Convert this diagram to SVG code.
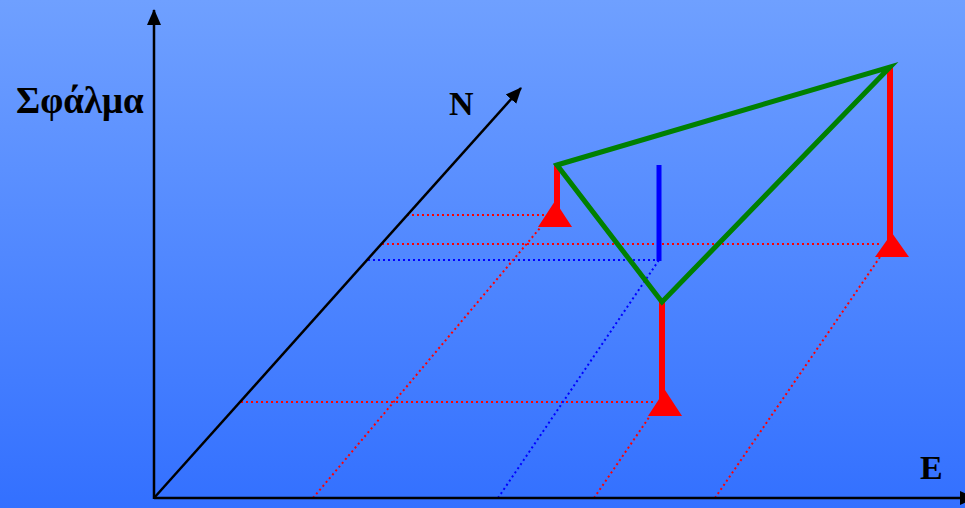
<svg xmlns="http://www.w3.org/2000/svg" width="965" height="508" viewBox="0 0 965 508">
<defs>
<linearGradient id="bg" x1="0" y1="0" x2="0" y2="1">
<stop offset="0" stop-color="#6fa0ff"/>
<stop offset="1" stop-color="#3370ff"/>
</linearGradient>
<marker id="ahb" markerWidth="16" markerHeight="16" refX="15" refY="7" orient="auto" markerUnits="userSpaceOnUse" viewBox="0 0 16 14">
<path d="M0,0 L16,7 L0,14 z" fill="#000"/>
</marker>
</defs>
<style>
.axis{stroke:#000;stroke-width:2.5;fill:none}
.rdot{stroke:#ff0000;stroke-width:2;stroke-dasharray:2 3;fill:none}
.bdot{stroke:#0000ff;stroke-width:2;stroke-dasharray:2 3;fill:none}
.red{stroke:#ff0000;stroke-width:6;fill:none}
.tri{fill:#ff0000}
.green{stroke:#008000;stroke-width:5;fill:none;stroke-linejoin:miter}
.lbl{font-family:"Liberation Serif","Times New Roman",serif;font-weight:bold;fill:#000}
</style>
<rect x="0" y="0" width="965" height="508" fill="url(#bg)"/>
<g id="connectors">
<line class="rdot" x1="407" y1="215" x2="544" y2="215"/>
<line class="rdot" x1="382" y1="244" x2="880" y2="244"/>
<line class="bdot" x1="368" y1="260" x2="659" y2="260"/>
<line class="rdot" x1="241" y1="402" x2="655" y2="402"/>
<line class="rdot" x1="313" y1="498" x2="540" y2="228"/>
<line class="bdot" x1="498" y1="498" x2="659" y2="260"/>
<line class="rdot" x1="594" y1="498" x2="650" y2="416"/>
<line class="rdot" x1="715" y1="498" x2="880" y2="257"/>
</g>
<g id="axes">
<line class="axis" x1="154" y1="499" x2="154" y2="10" marker-end="url(#ahb)"/>
<line class="axis" x1="154" y1="498" x2="975" y2="498" marker-end="url(#ahb)"/>
<line class="axis" x1="154" y1="498" x2="521" y2="88" marker-end="url(#ahb)"/>
</g>
<g id="blue-bar"><line x1="659" y1="165" x2="659" y2="261" stroke="#0000ff" stroke-width="5"/></g>
<g id="red-bars">
<line class="red" x1="557" y1="165" x2="557" y2="210"/>
<polygon class="tri" points="555,201 538,227 572,227"/>
<line class="red" x1="662" y1="302" x2="662" y2="400"/>
<polygon class="tri" points="665,390 648,416 682,416"/>
<line class="red" x1="890" y1="67" x2="890" y2="240"/>
<polygon class="tri" points="892,233 875,257 909,257"/>
</g>
<g id="surface"><polygon class="green" points="557,165 890,67 662,302"/></g>
<g id="labels">
<text class="lbl" x="16" y="113" font-size="37">Σφάλμα</text>
<text class="lbl" x="449" y="115" font-size="34">N</text>
<text class="lbl" x="920" y="479" font-size="34">E</text>
</g>
</svg>
